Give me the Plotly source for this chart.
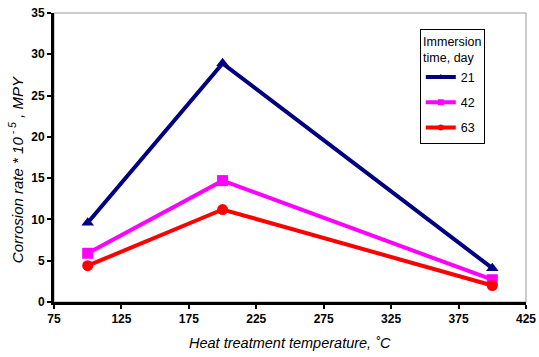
import plotly.graph_objects as go

temps = [100, 200, 400]
series_names = ["21", "42", "63"]
rate_21 = [9.6, 28.9, 4.1]
rate_42 = [5.9, 14.7, 2.7]
rate_63 = [4.4, 11.2, 2.0]
x_ticks = [75, 125, 175, 225, 275, 325, 375, 425]
y_ticks = [0, 5, 10, 15, 20, 25, 30, 35]

colors = ["#000080", "#FF00FF", "#FF0000"]
symbols = ["triangle-up", "square", "circle"]

fig = go.Figure()
for name, vals, c, s in zip(series_names, [rate_21, rate_42, rate_63], colors, symbols):
    fig.add_trace(go.Scatter(
        x=temps, y=vals, name=name, mode="lines+markers",
        line=dict(color=c, width=4),
        marker=dict(symbol=s, size=11, color=c),
        showlegend=False,
    ))
# legend entries with smaller markers
for name, c, s in zip(series_names, colors, symbols):
    fig.add_trace(go.Scatter(
        x=[None], y=[None], name=name, mode="lines+markers",
        line=dict(color=c, width=4),
        marker=dict(symbol=s, size=6, color=c),
        legendgroup="g" + name,
    ))

fig.add_shape(type="rect", xref="paper", yref="paper", x0=0, y0=0, x1=1, y1=1,
              line=dict(color="#999999", width=1), layer="below")

tick_font = dict(family="Liberation Sans Narrow, Liberation Sans, Arial", size=12, weight="bold")

fig.add_annotation(text="<i>Heat treatment temperature, ˚C</i>", xref="paper", yref="paper",
                   x=0.5, y=-0.142, xanchor="center", yanchor="middle", showarrow=False,
                   font=dict(family="Liberation Sans, Arial", size=14.5, color="black"))
fig.add_annotation(text="<i>Corrosion rate * 10<sup> - 5</sup> , MPY</i>", xref="paper", yref="paper",
                   x=-0.08, y=0.457, xanchor="center", yanchor="middle", showarrow=False,
                   textangle=-90,
                   font=dict(family="Liberation Sans, Arial", size=15, color="black"))

fig.update_layout(
    width=539, height=357,
    margin=dict(l=54, r=13, t=13, b=55),
    paper_bgcolor="white", plot_bgcolor="white",
    font=dict(family="Liberation Sans, Arial, sans-serif", color="black"),
    showlegend=True,
    legend=dict(
        x=0.775, y=0.945, xanchor="left", yanchor="top",
        bgcolor="white", bordercolor="black", borderwidth=1,
        title=dict(text="Immersion<br>time, day", side="top center",
                   font=dict(family="Liberation Sans, sans-serif", size=12.5)),
        font=dict(family="Liberation Sans, sans-serif", size=12.5),
        itemwidth=30, tracegroupgap=6,
    ),
    xaxis=dict(
        range=[75, 425], tickvals=x_ticks, ticktext=[str(v) for v in x_ticks],
        showgrid=False, zeroline=False, automargin=False,
        showline=True, linecolor="black", linewidth=3,
        ticks="outside", ticklen=4, tickwidth=2, tickcolor="black",
        tickfont=tick_font, ticklabeloverflow="allow",
    ),
    yaxis=dict(
        range=[0, 35], tickvals=y_ticks, ticktext=[str(v) for v in y_ticks],
        showgrid=False, zeroline=False, automargin=False,
        showline=True, linecolor="black", linewidth=3,
        ticks="outside", ticklen=4, tickwidth=2, tickcolor="black",
        tickfont=tick_font, ticklabeloverflow="allow",
    ),
)

# remove the default 8px page margin so the figure fills the window exactly
fig.write_html("out.html", config={"displayModeBar": False},
               post_script="document.body.style.margin='0';document.body.style.overflow='hidden';")
